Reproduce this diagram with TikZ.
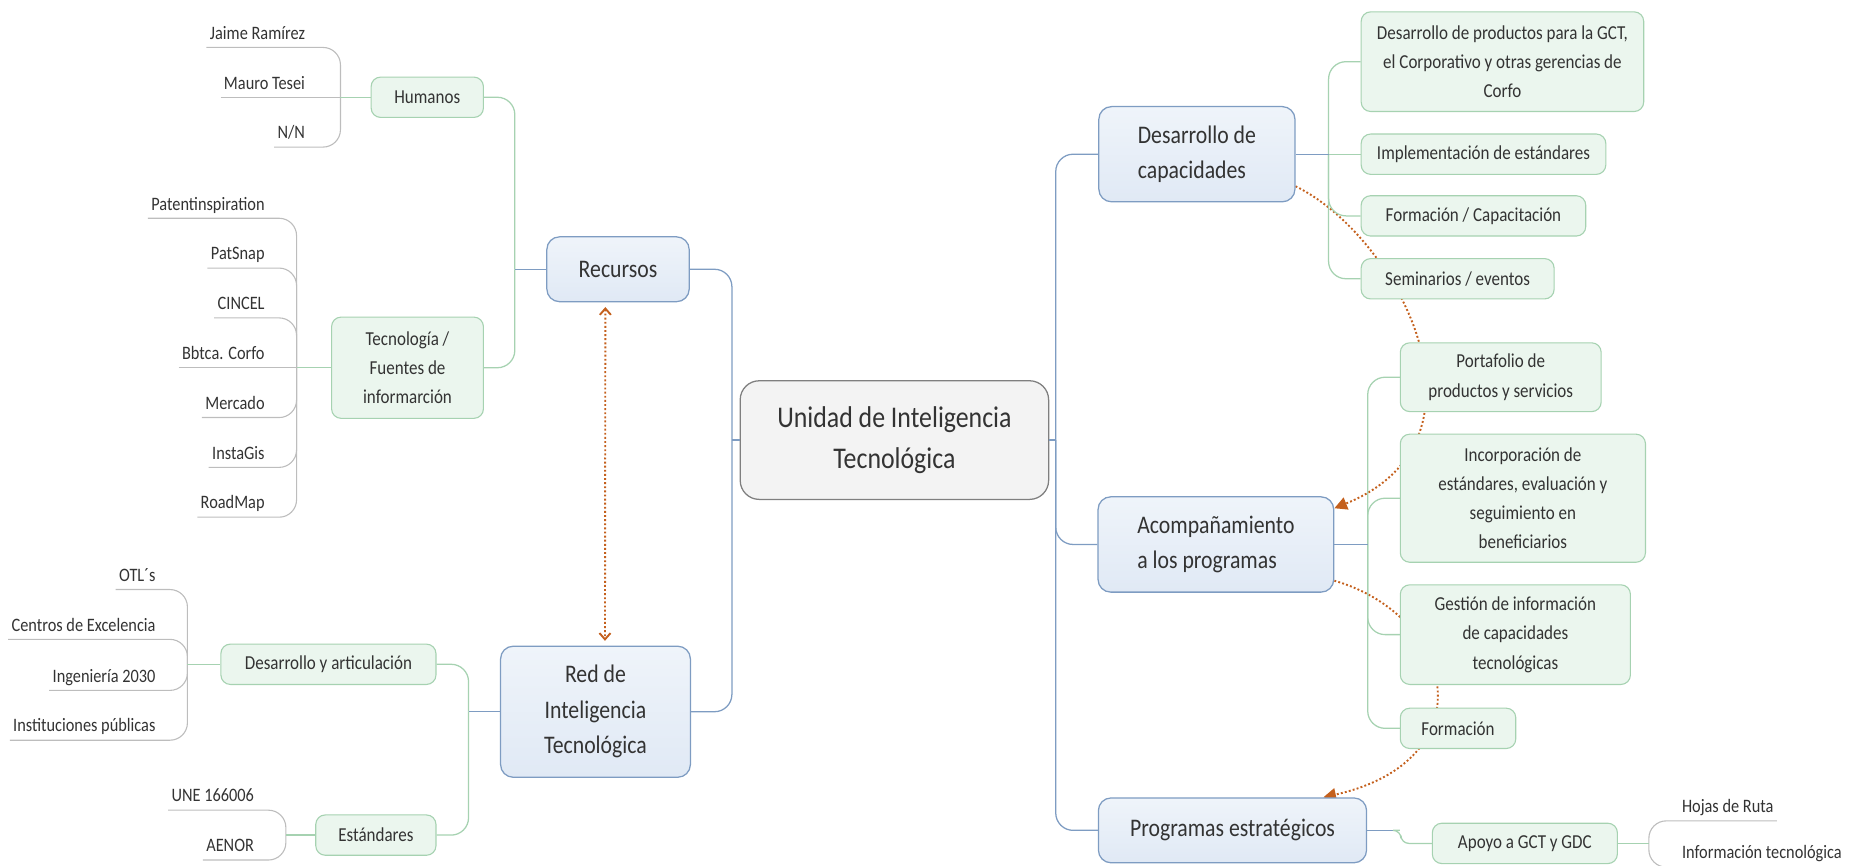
\documentclass[tikz,border=0pt]{standalone}
\usepackage{fontspec}
\setmainfont{Carlito}[FakeStretch=0.86]
\usetikzlibrary{arrows.meta,backgrounds}
\definecolor{rootfill}{HTML}{F3F3F3}
\definecolor{rootline}{HTML}{7F7F7F}
\definecolor{topicfill}{HTML}{EFF4FA}
\definecolor{topicfilldark}{HTML}{E0E9F5}
\definecolor{topicline}{HTML}{7E9CC2}
\definecolor{subfill}{HTML}{EBF6EE}
\definecolor{subline}{HTML}{A6D2B1}
\definecolor{leafline}{HTML}{BDBDBD}
\definecolor{relcolor}{HTML}{C4601D}
\definecolor{textgray}{HTML}{333333}
\begin{document}
\begin{tikzpicture}[
            x=0.75pt, y=-0.75pt,
            rootbox/.style={rectangle, rounded corners=12pt, draw=rootline, fill=rootfill, line width=0.8pt, text=textgray, align=center, font=\fontsize{19}{25.5}\selectfont, minimum width=195pt, minimum height=75pt},
            topicbox/.style={rectangle, rounded corners=8pt, draw=topicline, top color=topicfill, bottom color=topicfilldark, line width=0.8pt, text=textgray, font=\fontsize{16}{22.5}\selectfont, inner xsep=20pt, inner ysep=12pt, minimum height=41pt},
            subbox/.style={rectangle, rounded corners=6pt, draw=subline, fill=subfill, line width=0.7pt, text=textgray, align=center, font=\fontsize{12.5}{18.5}\selectfont, inner xsep=10pt, inner ysep=6.5pt, minimum height=25.5pt},
            leaftext/.style={inner xsep=2pt, inner ysep=2pt, text depth=3pt, text=textgray, font=\fontsize{12}{14}\selectfont},
            topicedge/.style={draw=topicline, line width=0.8pt, rounded corners=11pt},
            subedge/.style={draw=subline, line width=0.8pt, rounded corners=11pt},
            leafedge/.style={draw=leafline, line width=0.7pt, rounded corners=11pt},
            reledge/.style={draw=relcolor, line width=1.2pt, dash pattern=on 1.2pt off 1.4pt},
        ]
            \useasboundingbox (0,0) rectangle (1568,730);
            \node[rootbox](centralnode) at (754,371) {Unidad de Inteligencia\\Tecnológica};
            \node[topicbox, minimum width=90pt](recursosnode) at (521,227) {Recursos};
            \node[topicbox, align=center, minimum width=120pt](rednode) at (502,600) {Red de\\Inteligencia\\Tecnológica};
            \node[topicbox, align=left, minimum width=124pt](capacidadesnode) at (1009,130) {Desarrollo de\\capacidades};
            \node[topicbox, align=left, minimum width=149pt](acompnode) at (1025,459) {Acompañamiento\\a los programas};
            \node[topicbox, minimum width=169pt](programasnode) at (1039,700) {Programas estratégicos};

            \node[subbox, anchor=east, minimum width=71pt](humanosnode) at (408,82) {Humanos};
            \node[subbox, anchor=east, minimum width=96pt, minimum height=64pt](tecnonode) at (408,310) {Tecnología /\\Fuentes de\\informarción};
            \node[subbox, anchor=east, minimum width=136pt](articnode) at (368,560) {Desarrollo y articulación};
            \node[subbox, anchor=east, minimum width=76pt](estandaresnode) at (368,704) {Estándares};
            \node[subbox, anchor=west, minimum width=169pt, minimum height=63pt](productosnode) at (1147,52) {Desarrollo de productos para la GCT,\\el Corporativo y otras gerencias de\\Corfo};
            \node[subbox, anchor=west, minimum width=145pt](implnode) at (1147,130) {Implementación de estándares};
            \node[subbox, anchor=west, minimum width=142pt](capacitacionnode) at (1147,182) {Formación / Capacitación};
            \node[subbox, anchor=west, minimum width=122pt](seminariosnode) at (1147,235) {Seminarios / eventos};
            \node[subbox, anchor=west, minimum width=127pt, minimum height=43.5pt](portafolionode) at (1180,318) {Portafolio de\\productos y servicios};
            \node[subbox, anchor=west, minimum width=155pt, minimum height=81pt](incorpnode) at (1180,420) {Incorporación de\\estándares, evaluación y\\seguimiento en\\beneficiarios};
            \node[subbox, anchor=west, minimum width=145.5pt, minimum height=63pt](gestionnode) at (1180,535) {Gestión de información\\de capacidades\\tecnológicas};
            \node[subbox, anchor=west, minimum width=73pt](formacionnode) at (1180,614) {Formación};
            \node[subbox, anchor=west, minimum width=117pt](apoyonode) at (1207,711) {Apoyo a GCT y GDC};

            \node[leaftext, anchor=south east](jaimenode) at (260,40) {Jaime Ramírez};
            \node[leaftext, anchor=south east](mauronode) at (260,82) {Mauro Tesei};
            \node[leaftext, anchor=south east](nnnode) at (260,124) {N/N};
            \node[leaftext, anchor=south east](patentnode) at (226,184) {Patentinspiration};
            \node[leaftext, anchor=south east](patsnapnode) at (226,226) {PatSnap};
            \node[leaftext, anchor=south east](cincelnode) at (226,268) {CINCEL};
            \node[leaftext, anchor=south east](bbtcanode) at (226,310) {Bbtca. Corfo};
            \node[leaftext, anchor=south east](mercadonode) at (226,352) {Mercado};
            \node[leaftext, anchor=south east](instagisnode) at (226,394) {InstaGis};
            \node[leaftext, anchor=south east](roadmapnode) at (226,436) {RoadMap};
            \node[leaftext, anchor=south east](otlnode) at (134,497) {OTL´s};
            \node[leaftext, anchor=south east](centrosnode) at (134,539) {Centros de Excelencia};
            \node[leaftext, anchor=south east](ingenierianode) at (134,582) {Ingeniería 2030};
            \node[leaftext, anchor=south east](institucionesnode) at (134,624) {Instituciones públicas};
            \node[leaftext, anchor=south east](unenode) at (217,683) {UNE 166006};
            \node[leaftext, anchor=south east](aenornode) at (217,725) {AENOR};
            \node[leaftext, anchor=south west](hojasnode) at (1415,692) {Hojas de Ruta};
            \node[leaftext, anchor=south west](infonode) at (1415,731) {Información tecnológica};

            \coordinate (leftfork) at (617,371);
            \coordinate (rightfork) at (890,371);
            \coordinate (recursosfork) at (434,227);
            \coordinate (redfork) at (395,600);
            \coordinate (capfork) at (1120,130);
            \coordinate (acompfork) at (1153,459);
            \coordinate (progfork) at (1180,700);
            \coordinate (humanosfork) at (287,82);
            \coordinate (tecnofork) at (250,310);
            \coordinate (articfork) at (158,560);
            \coordinate (estandaresfork) at (241,704);
            \coordinate (apoyofork) at (1390,711);

            \draw[topicedge] (recursosnode.east) -| (leftfork);
            \draw[topicedge] (rednode.east) -| (leftfork);
            \draw[topicedge] (leftfork) -- (centralnode.west);
            \draw[topicedge] (capacidadesnode.west) -| (rightfork);
            \draw[topicedge] (acompnode.west) -| (rightfork);
            \draw[topicedge] (programasnode.west) -| (rightfork);
            \draw[topicedge] (centralnode.east) -- (rightfork);

            \draw[subedge] (humanosnode.east) -| (recursosfork);
            \draw[subedge] (tecnonode.east) -| (recursosfork);
            \draw[topicedge] (recursosfork) -- (recursosnode.west);
            \draw[subedge] (articnode.east) -| (redfork);
            \draw[subedge] (estandaresnode.east) -| (redfork);
            \draw[topicedge] (redfork) -- (rednode.west);
            \draw[subedge] (productosnode.west) -| (capfork);
            \draw[subedge] (implnode.west) -- (capfork);
            \draw[subedge] (capacitacionnode.west) -| (capfork);
            \draw[subedge] (seminariosnode.west) -| (capfork);
            \draw[topicedge] (capacidadesnode.east) -- (capfork);
            \draw[subedge] (portafolionode.west) -| (acompfork);
            \draw[subedge] (incorpnode.west) -| (acompfork);
            \draw[subedge] (gestionnode.west) -| (acompfork);
            \draw[subedge] (formacionnode.west) -| (acompfork);
            \draw[topicedge] (acompnode.east) -- (acompfork);
            \draw[topicedge] (programasnode.east) -- (progfork);
            \draw[subedge, rounded corners=5pt] (progfork) -- ++(1,0) |- (apoyonode.west);

            \draw[leafedge] (jaimenode.south west) -| (humanosfork);
            \draw[leafedge] (mauronode.south west) -- (humanosfork);
            \draw[leafedge] (nnnode.south west) -| (humanosfork);
            \draw[subedge] (humanosfork) -- (humanosnode.west);
            \draw[leafedge] (patentnode.south west) -| (tecnofork);
            \draw[leafedge] (patsnapnode.south west) -| (tecnofork);
            \draw[leafedge] (cincelnode.south west) -| (tecnofork);
            \draw[leafedge] (bbtcanode.south west) -- (tecnofork);
            \draw[leafedge] (mercadonode.south west) -| (tecnofork);
            \draw[leafedge] (instagisnode.south west) -| (tecnofork);
            \draw[leafedge] (roadmapnode.south west) -| (tecnofork);
            \draw[subedge] (tecnofork) -- (tecnonode.west);
            \draw[leafedge] (otlnode.south west) -| (articfork);
            \draw[leafedge] (centrosnode.south west) -| (articfork);
            \draw[leafedge] (ingenierianode.south west) -| (articfork);
            \draw[leafedge] (institucionesnode.south west) -| (articfork);
            \draw[subedge] (articfork) -- (articnode.west);
            \draw[leafedge] (unenode.south west) -| (estandaresfork);
            \draw[leafedge] (aenornode.south west) -| (estandaresfork);
            \draw[subedge] (estandaresfork) -- (estandaresnode.west);
            \draw[leafedge] (hojasnode.south east) -| (apoyofork);
            \draw[leafedge] (infonode.south east) -| (apoyofork);
            \draw[subedge] (apoyonode.east) -- (apoyofork);

            \draw[reledge, {Straight Barb[length=4pt,width=7pt]}-{Straight Barb[length=4pt,width=7pt]}, shorten <=3pt, shorten >=3pt] ([xshift=-8pt]recursosnode.south) -- ([xshift=6pt]rednode.north);
            \begin{scope}[on background layer]
                \draw[reledge, -{Triangle[length=8pt,width=8pt]}] (capacidadesnode.-18) .. controls +(86,42) and +(143,-58) .. (acompnode.17);
                \draw[reledge, -{Triangle[length=8pt,width=8pt]}] (acompnode.-17) .. controls +(103,30) and +(138,-31) .. (programasnode.20);
            \end{scope}
        \end{tikzpicture}
\end{document}
